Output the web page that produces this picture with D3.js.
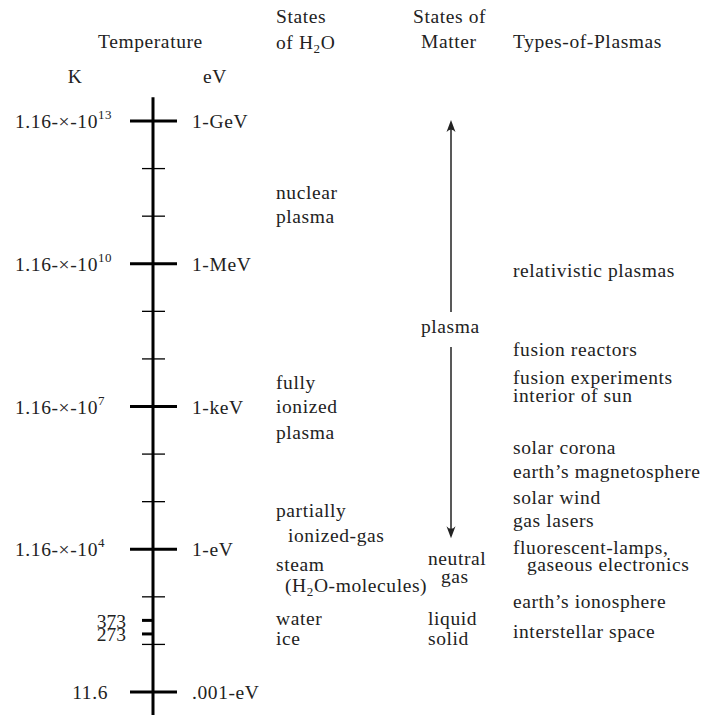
<!DOCTYPE html>
<html>
<head>
<meta charset="utf-8">
<script src="https://cdn.jsdelivr.net/npm/d3@7"></script>
<style>
  body { margin: 0; background: #fff; }
  svg text { font-family: "Liberation Serif", "DejaVu Serif", serif; font-size: 19.5px; fill: #222; letter-spacing: 0.6px; }
</style>
</head>
<body>
<svg width="710" height="715"></svg>
<script>
// Escala de temperatura (en eV, logaritmica)
const majorEv = [1e9, 1e6, 1e3, 1, 1e-3];
const majorEvLabels = ["1-GeV", "1-MeV", "1-keV", "1-eV", ".001-eV"];
const majorKLabels = [["1.16-×-10", "13"], ["1.16-×-10", "10"], ["1.16-×-10", "7"], ["1.16-×-10", "4"], ["11.6", null]];
const minorEv = [1e8, 1e7, 1e5, 1e4, 1e2, 1e1, 1e-1, 1e-2];
const waterK = ["373", "273"];
const waterEv = [0.032, 0.0166];

// Etiquetas: [texto, log10(eV) del centro, sangria]
const h2oLabels = [
    ["nuclear", 7.51, 0], ["plasma", 7.0, 0],
    ["fully", 3.52, 0], ["ionized", 3.01, 0], ["plasma", 2.46, 0],
    ["partially", 0.83, 0], ["ionized-gas", 0.30, 12],
    ["steam", -0.31, 0], ["(H|2|O-molecules)", -0.75, 9],
    ["water", -1.44, 0], ["ice", -1.87, 0]
];
const matterLabels = [
    ["neutral", -0.18, 0], ["gas", -0.56, 13],
    ["liquid", -1.44, 0], ["solid", -1.87, 0]
];
const plasmaLabels = [
    ["relativistic plasmas", 5.87, 0],
    ["fusion reactors", 4.21, 0],
    ["fusion experiments", 3.62, 0],
    ["interior of sun", 3.24, 0],
    ["solar corona", 2.15, 0],
    ["earth’s magnetosphere", 1.64, 0],
    ["solar wind", 1.10, 0],
    ["gas lasers", 0.61, 0],
    ["fluorescent-lamps,", 0.05, 0],
    ["gaseous electronics", -0.31, 14],
    ["earth’s ionosphere", -1.09, 0],
    ["interstellar space", -1.72, 0]
];
const plasmaState = ["plasma", 4.69];
const plasmaRange = [1.7, 1e9];   // flecha del estado plasma

const svg = d3.select("svg");
const y = d3.scaleLog().domain([1e-3, 1e9]).range([692, 121]);
const axisX = 153;

// Texto con subindice marcado como "H|2|O"
function addText(g, str, x, yy, anchor) {
    const t = g.append("text").attr("x", x).attr("y", yy).attr("text-anchor", anchor || "start");
    const parts = str.split("|");
    parts.forEach((p, i) => {
        if (i % 2 === 1) {
            t.append("tspan").attr("dy", 4).style("font-size", "13px").text(p);
        } else {
            const s = t.append("tspan").text(p);
            if (i > 0) s.attr("dy", -4);
        }
    });
    return t;
}

// Encabezados
const head = svg.append("g");
addText(head, "Temperature", 98, 48);
addText(head, "K", 75, 83, "middle");
addText(head, "eV", 203, 83);
addText(head, "States", 276, 23);
addText(head, "of H|2|O", 276, 49);
addText(head, "States of", 413, 23);
addText(head, "Matter", 421, 48);
addText(head, "Types-of-Plasmas", 513, 48);

// Eje vertical
svg.append("line")
    .attr("x1", axisX).attr("x2", axisX)
    .attr("y1", y(Math.pow(10, 9.5))).attr("y2", y(Math.pow(10, -3.5)))
    .style("stroke", "#000").style("stroke-width", 3);

svg.selectAll(".major").data(majorEv).enter().append("line")
    .attr("x1", axisX - 23).attr("x2", axisX + 24)
    .attr("y1", d => y(d)).attr("y2", d => y(d))
    .style("stroke", "#000").style("stroke-width", 3);

svg.selectAll(".minor").data(minorEv).enter().append("line")
    .attr("x1", axisX - 11).attr("x2", axisX + 12)
    .attr("y1", d => y(d)).attr("y2", d => y(d))
    .style("stroke", "#000").style("stroke-width", 1.3);

svg.selectAll(".water").data(waterEv).enter().append("line")
    .attr("x1", axisX - 11).attr("x2", axisX)
    .attr("y1", d => y(d)).attr("y2", d => y(d))
    .style("stroke", "#000").style("stroke-width", 3);

// Etiquetas del eje
const lab = svg.append("g");
majorEv.forEach((d, i) => {
    addText(lab, majorEvLabels[i], 192, y(d) + 7);
    const k = majorKLabels[i];
    if (k[1]) {
        const t = lab.append("text").attr("x", 15).attr("y", y(d) + 7);
        t.append("tspan").text(k[0]);
        t.append("tspan").attr("dy", -9).style("font-size", "13px").text(k[1]);
    } else {
        addText(lab, k[0], 108, y(d) + 7, "end");
    }
});
waterEv.forEach((d, i) => {
    lab.append("text").attr("x", 126).attr("y", y(d) + 7.5)
        .attr("text-anchor", "end").style("letter-spacing", "0px").text(waterK[i]);
});

// Columnas de texto
function column(data, x0) {
    const g = svg.append("g");
    data.forEach(d => addText(g, d[0], x0 + d[2], y(Math.pow(10, d[1])) + 7));
}
column(h2oLabels, 276);
column(matterLabels, 428);
column(plasmaLabels, 513);

// Estado plasma con flechas
const arrowX = 451;
const py = y(Math.pow(10, plasmaState[1]));
addText(svg, plasmaState[0], 421, py + 7);

function arrow(from, to) {
    const dir = Math.sign(to - from);
    svg.append("line")
        .attr("x1", arrowX).attr("x2", arrowX)
        .attr("y1", from).attr("y2", to - dir * 8)
        .style("stroke", "#222").style("stroke-width", 1.5);
    svg.append("path")
        .attr("d", `M${arrowX},${to} L${arrowX - 4.5},${to - dir * 12} Q${arrowX},${to - dir * 7} ${arrowX + 4.5},${to - dir * 12} Z`)
        .style("fill", "#222");
}
arrow(py - 14, y(plasmaRange[1]) - 1);
arrow(py + 21, y(plasmaRange[0]));
</script>
</body>
</html>
